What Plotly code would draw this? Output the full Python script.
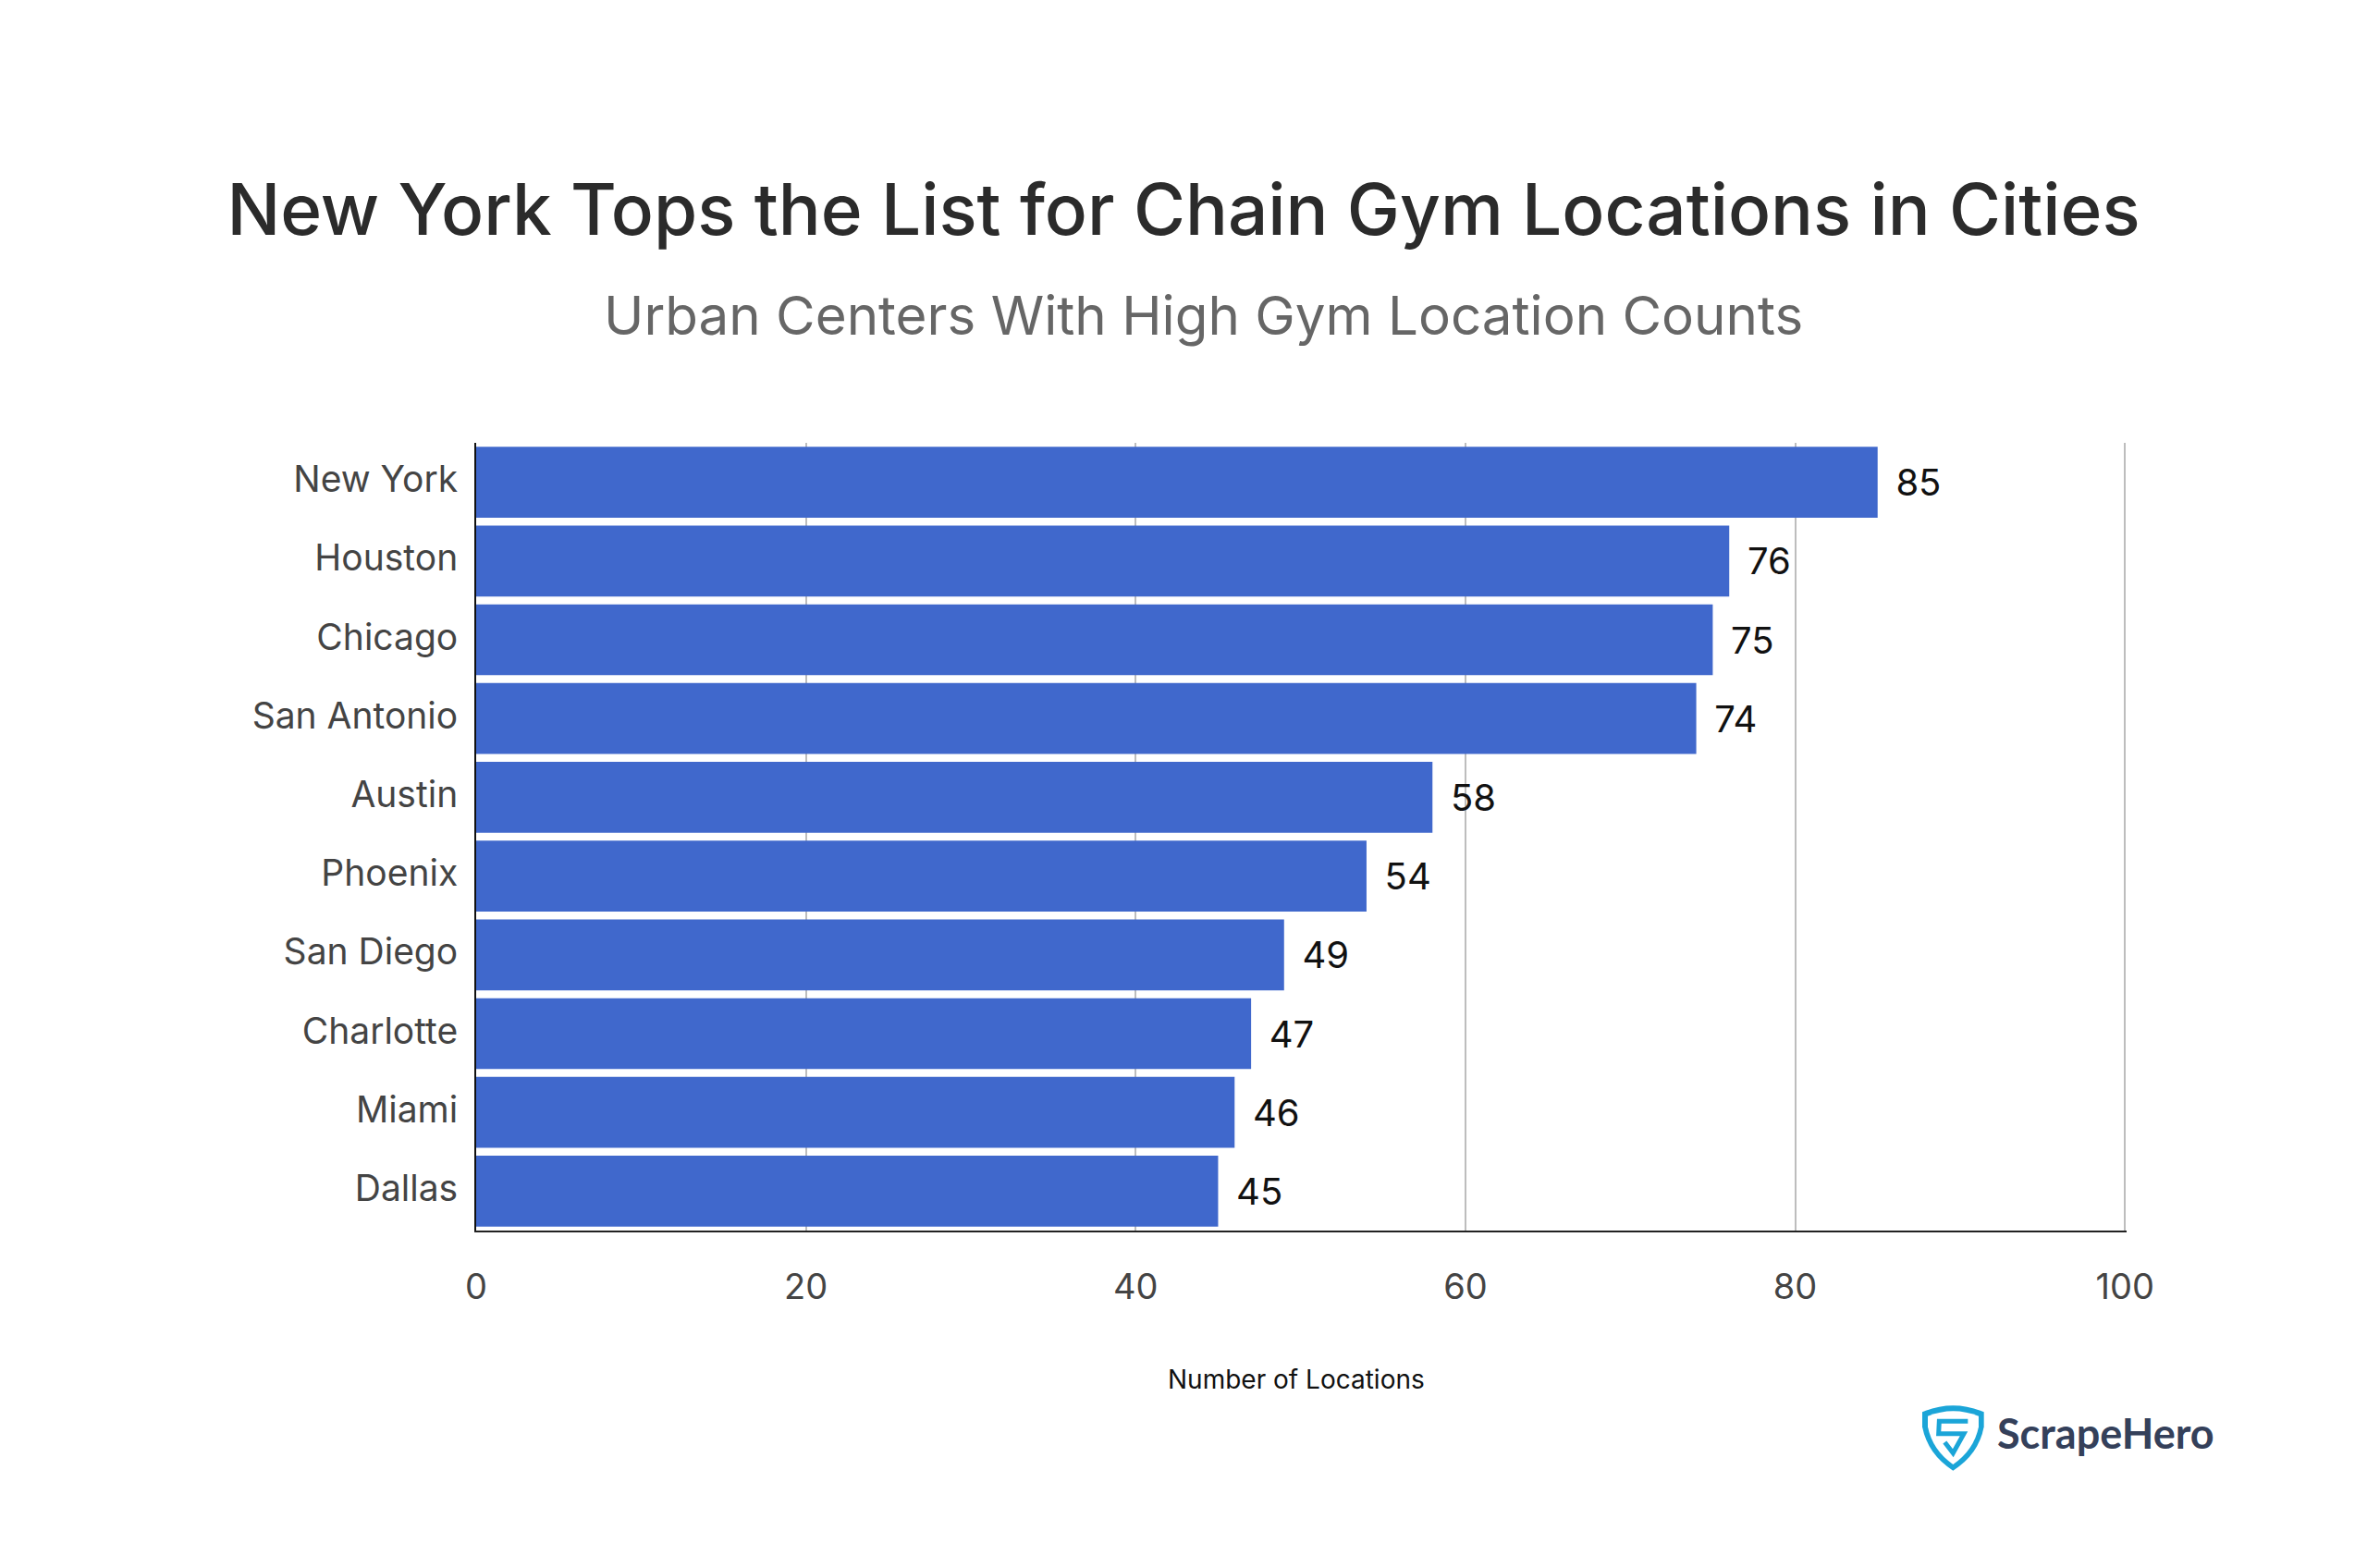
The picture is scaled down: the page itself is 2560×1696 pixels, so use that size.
import plotly.graph_objects as go

W, H = 2560, 1696
FONT = "Inter"

# plot area edges on the page, in pixels
LEFT, RIGHT, TOP, BOTTOM = 515, 2300, 479, 1331

cities = ["New York", "Houston", "Chicago", "San Antonio", "Austin",
          "Phoenix", "San Diego", "Charlotte", "Miami", "Dallas"]
locations = [85, 76, 75, 74, 58, 54, 49, 47, 46, 45]
x_ticks = [0, 20, 40, 60, 80, 100]

title_text = "New York Tops the List for Chain Gym Locations in Cities"
subtitle_text = "Urban Centers With High Gym Location Counts"
axis_title_text = "Number of Locations"
logo_text = "ScrapeHero"


def px_x(x):
    return (x - LEFT) / (RIGHT - LEFT)


def px_y(y):
    return (BOTTOM - y) / (BOTTOM - TOP)


def logo_path(cmds):
    # logo outline is given in page pixels, shapes want plot area fractions
    out = []
    for c in cmds:
        if isinstance(c, str):
            out.append(c)
        else:
            out.append(f"{px_x(c[0]):.5f},{px_y(c[1]):.5f}")
    return " ".join(out)


def crop(x, y):
    # positions measured on the zoomed logo crop
    return (2000 + x / 3, 1450 + y / 3)


outer = logo_path(["M", crop(237, 232), "Q", crop(337, 190), crop(437, 232), "L", crop(437, 280),
                   "Q", crop(420, 370), crop(337, 422), "Q", crop(255, 370), crop(237, 280), "Z"])
inner = logo_path(["M", crop(255, 245), "Q", crop(337, 212), crop(420, 245), "L", crop(420, 280),
                   "Q", crop(405, 355), crop(337, 402), "Q", crop(270, 355), crop(255, 280), "Z"])
s_mark = logo_path(["M", crop(385, 262), "L", crop(292, 262), "L", crop(290, 302), "L", crop(372, 302),
                    "L", crop(337, 365), "L", crop(310, 330)])

fig = go.Figure(go.Bar(
    x=locations,
    y=cities,
    orientation="h",
    marker=dict(color="#4068CC", line_width=0),
    text=locations,
    texttemplate="\u2005\u2006%{x}",
    textposition="outside",
    cliponaxis=False,
    textfont=dict(family=FONT, size=40, color="#111111"),
    hoverinfo="skip",
))

fig.update_layout(
    width=W,
    height=H,
    margin=dict(l=LEFT, r=W - RIGHT, t=TOP, b=H - BOTTOM, autoexpand=False),
    paper_bgcolor="white",
    plot_bgcolor="white",
    showlegend=False,
    bargap=0.1,
    font=dict(family=FONT),
    title=dict(text=title_text, x=0.5, xanchor="center", xref="container", y=1 - 227 / H, yanchor="middle",
               font=dict(family=FONT, size=76.4, color="#2B2B2B", weight=500)),
)
fig.update_xaxes(
    range=[0, 100.1],
    tickvals=x_ticks,
    showgrid=True,
    gridcolor="#BDBDBD",
    gridwidth=2,
    showline=True,
    linecolor="#222222",
    linewidth=2,
    zeroline=False,
    ticklabelstandoff=26,
    tickfont=dict(family=FONT, size=38, color="#444444"),
)
fig.update_yaxes(
    categoryorder="array",
    categoryarray=cities[::-1],
    showline=True,
    linecolor="#111111",
    linewidth=2,
    ticklabelstandoff=10,
    ticklabelshift=-3,
    tickfont=dict(family=FONT, size=39, color="#444444"),
)

fig.add_annotation(text=subtitle_text, xref="paper", yref="paper", x=px_x(1301), y=px_y(341),
                   yanchor="middle", showarrow=False,
                   font=dict(family=FONT, size=58.3, color="#666666"))
fig.add_annotation(text=axis_title_text, xref="paper", yref="paper", x=px_x(1402), y=px_y(1492),
                   yanchor="middle", showarrow=False,
                   font=dict(family=FONT, size=28, color="#111111"))
fig.add_annotation(text=logo_text, xref="paper", yref="paper", x=px_x(2158), y=px_y(1550),
                   xanchor="left", yanchor="middle", showarrow=False,
                   font=dict(family="Lato", size=45, color="#34405A", weight=700))

fig.add_shape(type="path", xref="paper", yref="paper", path=outer, fillcolor="#1BA5D8", line_width=0, layer="above")
fig.add_shape(type="path", xref="paper", yref="paper", path=inner, fillcolor="white", line_width=0, layer="above")
fig.add_shape(type="path", xref="paper", yref="paper", path=s_mark, line=dict(color="#1BA5D8", width=5), layer="above")

fig.write_html("out.html", config={"displayModeBar": False}, post_script="document.body.style.margin='0';")
